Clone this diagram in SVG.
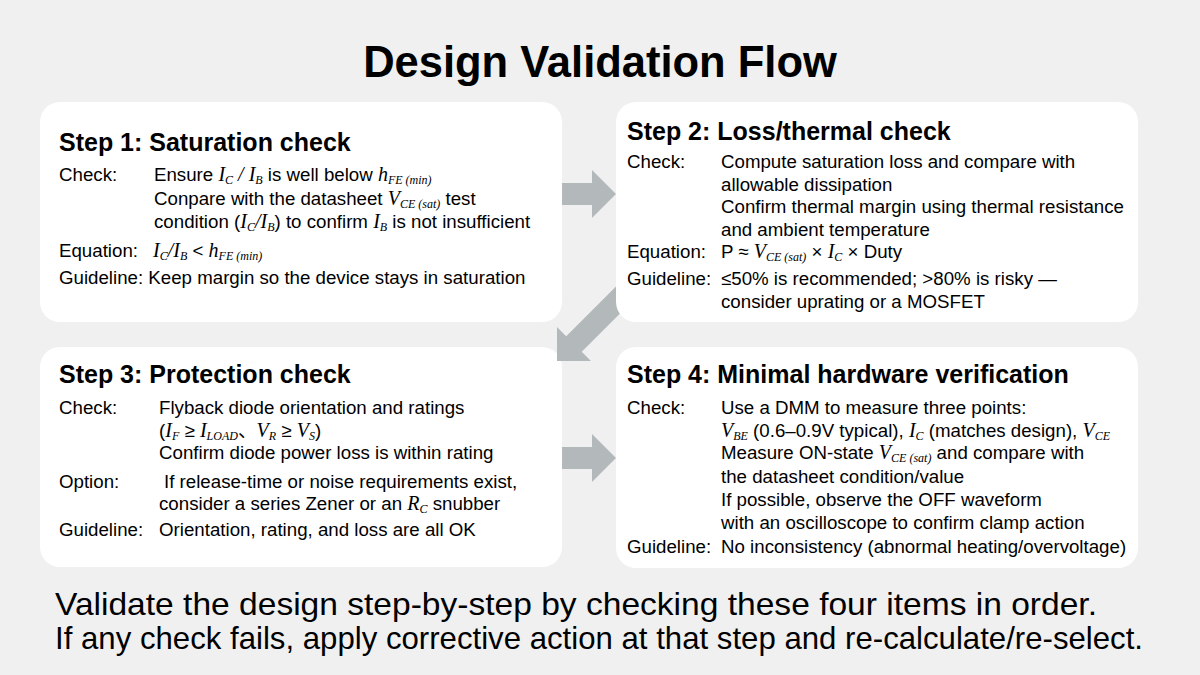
<svg xmlns="http://www.w3.org/2000/svg" width="1200" height="675" viewBox="0 0 1200 675">
<style>
.bg{fill:#f0f0f0}
.box{fill:#ffffff}
.arr{fill:#b3b8bb}
text{font-family:"Liberation Sans",Arial,sans-serif;fill:#000;font-size:18.7px}
.title{font-size:43.5px;font-weight:bold}
.h{font-size:25px;font-weight:bold}
.m{font-family:"Liberation Serif","Times New Roman",serif;font-style:italic;font-size:20px}
.sb{font-family:"Liberation Serif","Times New Roman",serif;font-style:italic;font-size:12px}
.cjk{font-family:"Noto Sans CJK JP",sans-serif}
.foot{font-size:32px}
</style>
<defs>
<clipPath id="notBox2">
<path clip-rule="evenodd" d="M0 0H1200V675H0Z M636 102H1118A20 20 0 0 1 1138 122V302A20 20 0 0 1 1118 322H636A20 20 0 0 1 616 302V122A20 20 0 0 1 636 102Z"/>
</clipPath>
</defs>
<rect class="bg" x="0" y="0" width="1200" height="675"/>
<text class="title" x="600" y="77" text-anchor="middle">Design Validation Flow</text>

<g id="step1">
<rect class="box" x="40" y="102" width="522" height="220" rx="20"/>
<text class="h" x="59" y="151">Step 1: Saturation check</text>
<text x="59" y="181">Check:</text>
<text x="154" y="181">Ensure <tspan class="m">I</tspan><tspan class="sb" dy="3">C</tspan><tspan class="m" dy="-3"> / I</tspan><tspan class="sb" dy="3">B</tspan><tspan dy="-3"> is well below </tspan><tspan class="m">h</tspan><tspan class="sb" dy="3">FE (min)</tspan></text>
<text x="154" y="205">Conpare with the datasheet <tspan class="m">V</tspan><tspan class="sb" dy="3">CE (sat)</tspan><tspan dy="-3"> test</tspan></text>
<text x="154" y="228">condition (<tspan class="m">I</tspan><tspan class="sb" dy="3">C</tspan><tspan class="m" dy="-3">/I</tspan><tspan class="sb" dy="3">B</tspan><tspan dy="-3">) to confirm </tspan><tspan class="m">I</tspan><tspan class="sb" dy="3">B</tspan><tspan dy="-3"> is not insufficient</tspan></text>
<text x="59" y="257">Equation:</text>
<text x="153" y="257"><tspan class="m">I</tspan><tspan class="sb" dy="3">C</tspan><tspan class="m" dy="-3">/I</tspan><tspan class="sb" dy="3">B</tspan><tspan dy="-3"> &lt; </tspan><tspan class="m">h</tspan><tspan class="sb" dy="3">FE (min)</tspan></text>
<text x="59" y="284">Guideline: Keep margin so the device stays in saturation</text>
</g>

<g id="step2">
<rect class="box" x="616" y="102" width="522" height="220" rx="20"/>
<text class="h" x="627" y="140">Step 2: Loss/thermal check</text>
<text x="627" y="168">Check:</text>
<text x="721" y="168">Compute saturation loss and compare with</text>
<text x="721" y="190.5">allowable dissipation</text>
<text x="721" y="213">Confirm thermal margin using thermal resistance</text>
<text x="721" y="235.5">and ambient temperature</text>
<text x="627" y="258">Equation:</text>
<text x="721" y="258">P ≈ <tspan class="m">V</tspan><tspan class="sb" dy="3">CE (sat)</tspan><tspan dy="-3"> × </tspan><tspan class="m">I</tspan><tspan class="sb" dy="3">C</tspan><tspan dy="-3"> × Duty</tspan></text>
<text x="627" y="285">Guideline:</text>
<text x="721" y="285">≤50% is recommended; &gt;80% is risky —</text>
<text x="721" y="307.5">consider uprating or a MOSFET</text>
</g>

<g id="step3">
<rect class="box" x="40" y="347" width="522" height="220" rx="20"/>
<text class="h" x="59" y="383">Step 3: Protection check</text>
<text x="59" y="413.5">Check:</text>
<text x="159" y="413.5">Flyback diode orientation and ratings</text>
<text x="159" y="437">(<tspan class="m">I</tspan><tspan class="sb" dy="3">F</tspan><tspan dy="-3"> ≥ </tspan><tspan class="m">I</tspan><tspan class="sb" dy="3">LOAD</tspan><tspan class="cjk" dy="-3">、</tspan><tspan class="m">V</tspan><tspan class="sb" dy="3">R</tspan><tspan dy="-3"> ≥ </tspan><tspan class="m">V</tspan><tspan class="sb" dy="3">S</tspan><tspan dy="-3">)</tspan></text>
<text x="159" y="458.5">Confirm diode power loss is within rating</text>
<text x="59" y="488">Option:</text>
<text x="164" y="488">If release-time or noise requirements exist,</text>
<text x="159" y="510">consider a series Zener or an <tspan class="m">R</tspan><tspan class="sb" dy="3">C</tspan><tspan dy="-3"> snubber</tspan></text>
<text x="59" y="536">Guideline:</text>
<text x="159" y="536">Orientation, rating, and loss are all OK</text>
</g>

<g id="step4">
<rect class="box" x="616" y="347" width="522" height="221" rx="20"/>
<text class="h" x="627" y="383">Step 4: Minimal hardware verification</text>
<text x="627" y="413.5">Check:</text>
<text x="721" y="413.5">Use a DMM to measure three points:</text>
<text x="721" y="436.5"><tspan class="m">V</tspan><tspan class="sb" dy="3">BE</tspan><tspan dy="-3"> (0.6–0.9V typical), </tspan><tspan class="m">I</tspan><tspan class="sb" dy="3">C</tspan><tspan dy="-3"> (matches design), </tspan><tspan class="m">V</tspan><tspan class="sb" dy="3">CE</tspan></text>
<text x="721" y="459">Measure ON-state <tspan class="m">V</tspan><tspan class="sb" dy="3">CE (sat)</tspan><tspan dy="-3"> and compare with</tspan></text>
<text x="721" y="482.5">the datasheet condition/value</text>
<text x="721" y="506">If possible, observe the OFF waveform</text>
<text x="721" y="529">with an oscilloscope to confirm clamp action</text>
<text x="627" y="553">Guideline:</text>
<text x="721" y="553">No inconsistency (abnormal heating/overvoltage)</text>
</g>

<g id="connectors">
<polygon class="arr" points="562,183 592,183 592,170 616,194 592,218 592,205 562,205"/>
<polygon class="arr" points="562,447 592,447 592,434 616,458 592,482 592,469 562,469"/>
<g clip-path="url(#notBox2)">
<polygon class="arr" transform="translate(557,361) rotate(135)" points="0,0 -24,-24 -24,-11 -110,-11 -110,11 -24,11 -24,24"/>
</g>
</g>

<text class="foot" x="55" y="615" textLength="1042" lengthAdjust="spacingAndGlyphs">Validate the design step-by-step by checking these four items in order.</text>
<text class="foot" x="55" y="649" textLength="1088" lengthAdjust="spacingAndGlyphs">If any check fails, apply corrective action at that step and re-calculate/re-select.</text>
</svg>
